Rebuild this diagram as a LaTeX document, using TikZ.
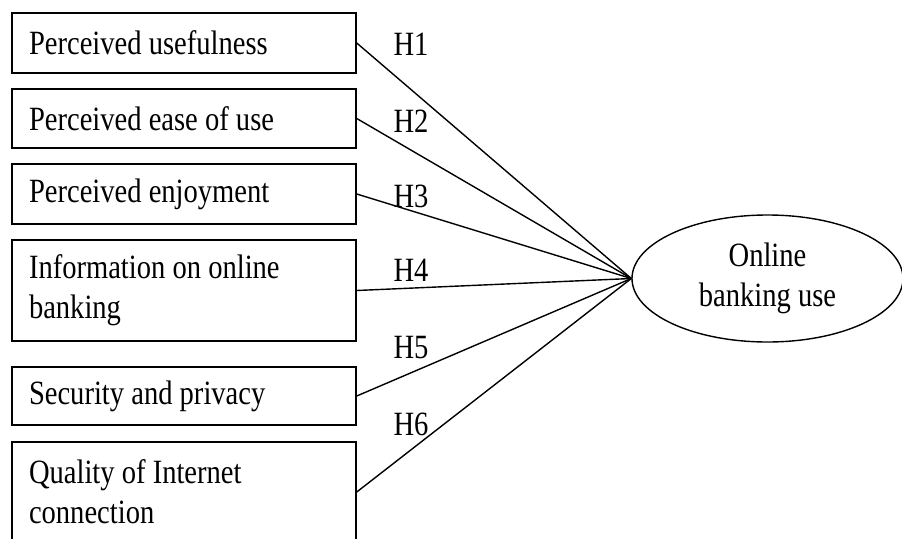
\documentclass[tikz,border=0pt]{standalone}
\usepackage{fontspec}
\setmainfont{Liberation Serif}[FakeStretch=0.84]
\usetikzlibrary{shapes.geometric}
\begin{document}
\begin{tikzpicture}[x=1pt,y=-1pt,
  txt/.style={font=\fontsize{34}{40}\selectfont},
  box/.style={txt, draw, line width=1.5pt, minimum width=344pt, text width=310pt,
              align=left, inner sep=0pt},
  lab/.style={txt, inner sep=0pt},
  conn/.style={line width=1.4pt},
  outc/.style={txt, draw, ellipse, line width=1.4pt, minimum width=271pt,
               minimum height=127pt, inner sep=0pt, align=center}]
\useasboundingbox (0,0) rectangle (902,538);
\fill[white] (0,0) rectangle (902,538);
\clip (0,0) rectangle (902,538);

\node[box, minimum height=60pt]  (b1) at (184,43)    {\spaceskip=0pt Perceived usefulness};
\node[box, minimum height=59pt]  (b2) at (184,118.5) {\spaceskip=0pt Perceived ease of use};
\node[box, minimum height=60pt]  (b3) at (184,194)   {\spaceskip=0pt Perceived enjoyment};
\node[box, minimum height=101pt] (b4) at (184,290.5) {\spaceskip=0pt Information on online\\banking};
\node[box, minimum height=58pt]  (b5) at (184,396)   {\spaceskip=0pt Security and privacy};
\node[box, minimum height=100pt] (b6) at (184,492)   {\spaceskip=0pt Quality of Internet\\connection};

\node[outc] (out) at (767.5,278.5) {Online\\banking use};

\foreach \i in {1,...,6} \draw[conn] (b\i.east) -- (out.west);

\node[lab] (h1) at (411,44)  {H1};
\node[lab] (h2) at (411,121) {H2};
\node[lab] (h3) at (411,196) {H3};
\node[lab] (h4) at (411,270) {H4};
\node[lab] (h5) at (411,348) {H5};
\node[lab] (h6) at (411,424) {H6};
\end{tikzpicture}
\end{document}
